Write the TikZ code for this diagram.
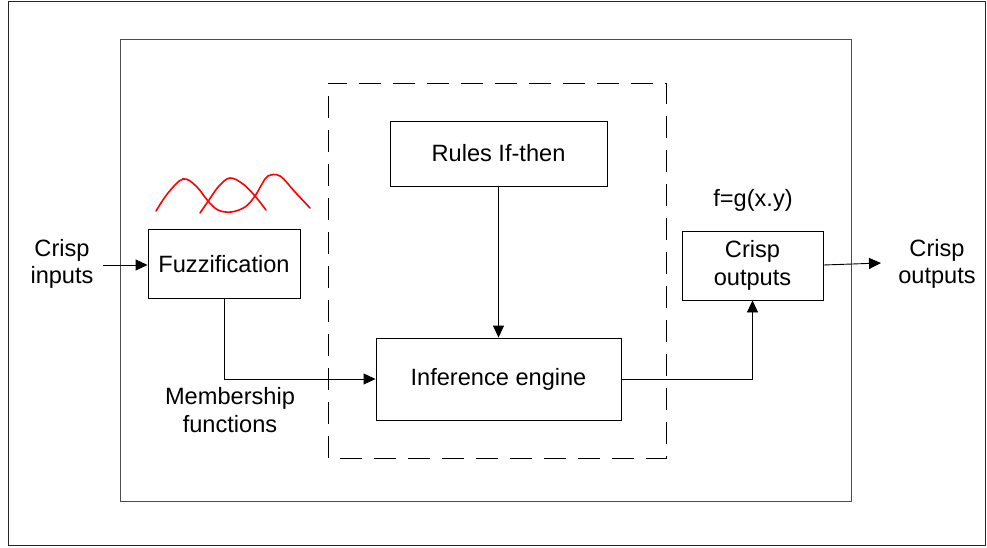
\documentclass[tikz,border=0pt]{standalone}
\usepackage{fontspec}
\setmainfont{Liberation Sans}
\usetikzlibrary{arrows.meta}
\begin{document}
\begin{tikzpicture}[x=1pt,y=-1pt,
  blockbox/.style={draw=black,line width=0.9pt,fill=white,inner sep=0pt},
  lbl/.style={font=\fontsize{23.6}{27.5}\selectfont,align=center,inner sep=0pt},
  conn/.style={draw=black,line width=0.9pt},
  arr/.style={conn,-{Triangle[length=12pt,width=11pt]}},
  fuzzy/.style={draw=red,line width=1.6pt,line cap=round}]
\useasboundingbox (0,0) rectangle (987,547);
% frames
\draw[line width=1pt,draw=black!85] (8,1) rectangle (985,545);
\draw[line width=0.9pt,draw=black!70] (120,39) rectangle (851,501);
\draw[line width=1pt,dash pattern=on 22pt off 12pt,dash phase=-13pt] (328,83) rectangle (666,458);
% blocks
\node[blockbox,minimum width=152pt,minimum height=69pt] (fuzz) at (224,264) {};
\node[lbl] at (fuzz.center) {Fuzzification};
\node[blockbox,minimum width=217pt,minimum height=65pt] (rules) at (498.5,153.5) {};
\node[lbl] at (rules.center) {Rules If-then};
\node[blockbox,minimum width=245pt,minimum height=82pt] (inf) at (498.5,379) {};
\node[lbl] at (inf.center) {Inference engine};
\node[blockbox,minimum width=141pt,minimum height=69pt] (cout) at (752.5,265.5) {};
\node[lbl] at (cout.center) {Crisp\\outputs};
% free labels
\node[lbl] (cin) at (62,264) {Crisp\\inputs};
\node[lbl] (oout) at (937,264) {Crisp\\outputs};
\node[lbl] (fg) at (753,200) {f=g(x.y)};
\node[lbl] (memb) at (230,410) {Membership\\functions};
\coordinate (cinend) at (103,265);
\coordinate (oend) at (881,263);
% connectors
\draw[arr] (cinend) -- (fuzz.west |- cinend);
\draw[arr] (rules.south) -- (inf.north);
\draw[arr] (fuzz.south) |- (inf.west);
\draw[arr] (inf.east) -| (cout.south);
\draw[arr] (cout.east |- 0,265) -- (oend);
% membership curves
\draw[fuzzy] plot[smooth,tension=0.6] coordinates {(156,211) (168,193) (183,179) (196,186) (208,201) (218,210) (231,212) (245,207) (255,196) (262,184) (268,176) (280,176) (295,192) (310,208)};
\draw[fuzzy] plot[smooth,tension=0.6] coordinates {(200,213) (209,200) (219,186) (230,178) (243,184) (255,196) (266,210)};
\end{tikzpicture}
\end{document}
